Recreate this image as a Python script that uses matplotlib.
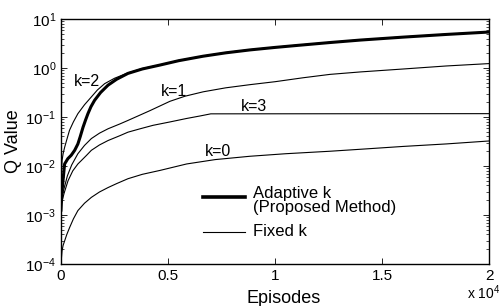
import matplotlib
matplotlib.use("Agg")
import matplotlib.pyplot as plt
from matplotlib.ticker import LogLocator, NullFormatter, FixedLocator, FixedFormatter

plt.rcParams['font.family'] = ['Liberation Sans', 'DejaVu Sans']
plt.rcParams['mathtext.fontset'] = 'custom'
plt.rcParams['mathtext.rm'] = 'Liberation Sans'
plt.rcParams['mathtext.it'] = 'Liberation Sans:italic'
plt.rcParams['mathtext.bf'] = 'Liberation Sans:bold'

# ---- data (episodes, Q value) ----
adaptive_x = [0, 50, 170, 320, 480, 640, 790, 900, 1030, 1150, 1260, 1400, 1570, 1850, 2200, 2600,
              3130, 3800, 4630, 5500, 6640, 7700, 8830, 10000, 11000, 12570, 14000, 16000, 18000, 20000]
adaptive_q = [1.26e-3, 3.16e-3, 0.011, 0.0141, 0.0166, 0.0209, 0.0282, 0.0398, 0.0617, 0.0871, 0.117,
              0.162, 0.219, 0.316, 0.447, 0.589, 0.776, 0.955, 1.15, 1.41, 1.74, 2.04, 2.34, 2.63,
              2.88, 3.31, 3.72, 4.27, 4.84, 5.42]

k2_x = [0, 20, 50, 100, 170, 280, 400, 580, 790, 1100, 1420, 1700, 2040, 2500, 3130, 3800, 4630, 5500,
        6640, 7700, 8830, 10000, 11000, 12570, 14000, 16000, 18000, 20000]
k2_q = [1.0e-3, 5.0e-3, 0.0129, 0.0178, 0.024, 0.0355, 0.0537, 0.0794, 0.117, 0.178, 0.257, 0.355,
        0.479, 0.617, 0.794, 0.977, 1.16, 1.43, 1.76, 2.07, 2.37, 2.66, 2.92, 3.35, 3.76, 4.32, 4.90, 5.47]

k1_x = [0, 150, 300, 500, 790, 1100, 1420, 1800, 2200, 2760, 3130, 3600, 4160, 4600, 5090, 5800, 6650,
        7700, 8830, 10000, 11300, 12570, 14000, 16000, 18000, 20000]
k1_q = [2.0e-3, 3.55e-3, 6.31e-3, 0.0105, 0.0178, 0.0263, 0.0363, 0.0468, 0.0575, 0.0724, 0.0851,
        0.105, 0.135, 0.166, 0.209, 0.266, 0.327, 0.394, 0.457, 0.525, 0.631, 0.741, 0.832, 0.955,
        1.10, 1.23]

k3_x = [0, 150, 330, 550, 790, 950, 1200, 1420, 1800, 2200, 2760, 3130, 3700, 4300, 5100, 5870, 6500,
        7000, 20000]
k3_q = [1.58e-3, 2.82e-3, 5.01e-3, 7.94e-3, 0.011, 0.0129, 0.0166, 0.0209, 0.0269, 0.0331, 0.0417,
        0.049, 0.0575, 0.0676, 0.0794, 0.0933, 0.105, 0.116, 0.117]

k0_x = [10, 50, 100, 170, 270, 400, 580, 790, 1100, 1420, 1800, 2200, 2600, 3130, 3800, 4630, 5870,
        7200, 8830, 10500, 12570, 14300, 16000, 18000, 20000]
k0_q = [1.15e-4, 1.86e-4, 2.40e-4, 2.95e-4, 3.98e-4, 5.50e-4, 8.32e-4, 1.23e-3, 1.74e-3, 2.29e-3,
        2.95e-3, 3.63e-3, 4.37e-3, 5.50e-3, 6.76e-3, 8.13e-3, 0.011, 0.0135, 0.0158, 0.0178, 0.020,
        0.0224, 0.0251, 0.0282, 0.0324]

x_ticks = [0, 5000, 10000, 15000, 20000]
x_tick_labels = ["0", "0.5", "1", "1.5", "2"]
curve_labels = ["k=2", "k=1", "k=3", "k=0"]
label_pos = [(1200, 0.52), (5300, 0.33), (9000, 0.163), (7350, 0.0195)]

fig = plt.figure(figsize=(4.99, 3.06), dpi=100)
ax = fig.add_axes([0.1222, 0.1373, 0.8578, 0.8006])

thin = 0.8
ax.plot(k2_x, k2_q, color='black', lw=thin)
ax.plot(k1_x, k1_q, color='black', lw=thin)
ax.plot(k3_x, k3_q, color='black', lw=thin)
ax.plot(k0_x, k0_q, color='black', lw=thin)
ax.plot(adaptive_x, adaptive_q, color='black', lw=2.2)

ax.set_yscale('log')
ax.set_xlim(0, 20000)
ax.set_ylim(1e-4, 10)

ax.xaxis.set_major_locator(FixedLocator(x_ticks))
ax.xaxis.set_major_formatter(FixedFormatter(x_tick_labels))
ax.yaxis.set_major_locator(LogLocator(base=10, numticks=10))
ax.yaxis.set_minor_locator(LogLocator(base=10, subs=range(2, 10), numticks=20))
ax.yaxis.set_minor_formatter(NullFormatter())

ax.tick_params(which='both', direction='in', top=True, right=True, labelsize=11)
ax.tick_params(which='major', length=4, width=0.6)
ax.tick_params(which='minor', length=2, width=0.5)
for s in ax.spines.values():
    s.set_linewidth(1.0)

ax.set_xlabel("Episodes", fontsize=13, labelpad=3)
ax.xaxis.set_label_coords(0.52, -0.105)
ax.set_ylabel("Q Value", fontsize=13, labelpad=2)

for txt, (lx, ly) in zip(curve_labels, label_pos):
    ax.text(lx, ly, txt, fontsize=11.5, ha='center', va='center')

# legend drawn manually
ax.plot([6650, 8600], [2.36e-3, 2.36e-3], color='black', lw=2.6)
ax.plot([6650, 8600], [4.53e-4, 4.53e-4], color='black', lw=thin)
ax.text(8950, 2.0e-3, "Adaptive k\n(Proposed Method)", fontsize=12, va='center', ha='left', linespacing=0.92)
ax.text(8950, 4.53e-4, "Fixed k", fontsize=12, va='center', ha='left')

fig.text(0.936, 0.012, r"x 10$^{4}$", fontsize=10, ha='left', va='bottom')

fig.savefig("out.png", dpi=100)
